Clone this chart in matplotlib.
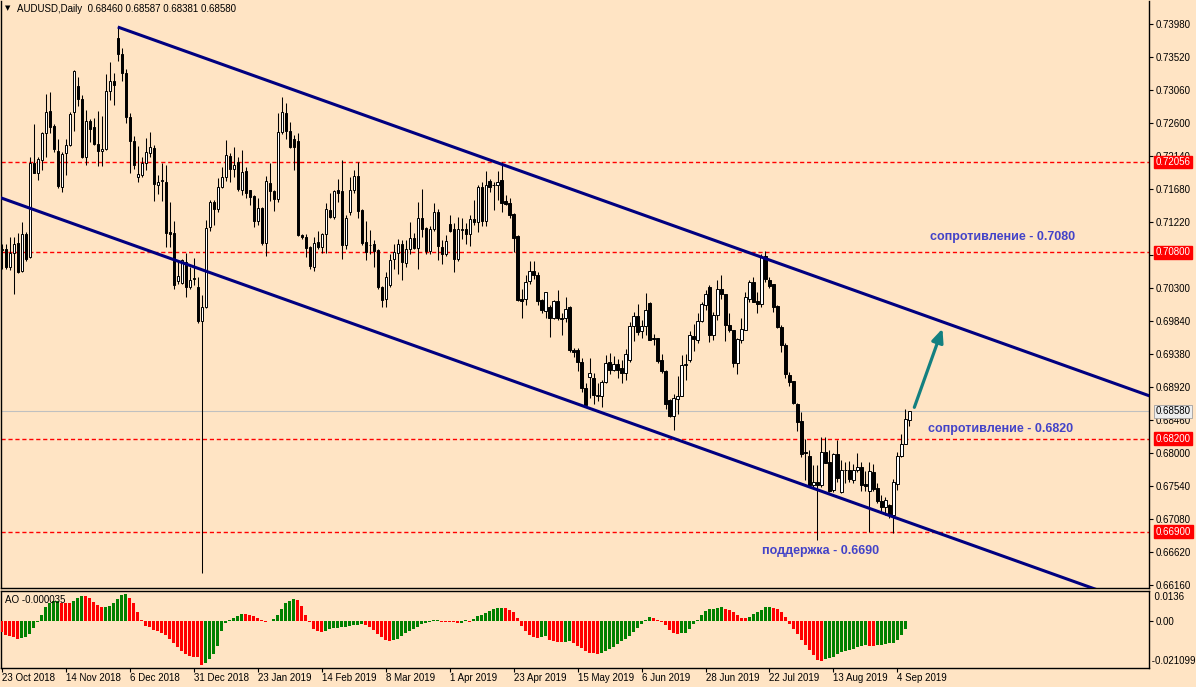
import numpy as np
import matplotlib
matplotlib.use("Agg")
import matplotlib.pyplot as plt
from matplotlib.transforms import blended_transform_factory

plt.rcParams['font.family'] = ['Liberation Sans', 'DejaVu Sans']

# === chart data ===
symbol = "AUDUSD,Daily"

open_ = [
    .7083, .7084, .7059, .7079, .7093, .7054, .7105, .7073, .7204, .7190,   # 0
    .7208, .7246, .7277, .7256, .7221, .7171, .7218, .7230, .7276, .7312,   # 10
    .7293, .7213, .7263, .7254, .7231, .7221, .7224, .7305, .7319, .7378,   # 20
    .7356, .7330, .7268, .7235, .7185, .7187, .7204, .7218, .7225, .7174,   # 30
    .7179, .7178, .7108, .7107, .7040, .7037, .7066, .7031, .7044, .7031,   # 40
    .6984, .7004, .7115, .7150, .7140, .7171, .7185, .7214, .7196, .7206,   # 50
    .7167, .7193, .7166, .7158, .7123, .7141, .7093, .7176, .7165, .7154,   # 60
    .7247, .7274, .7249, .7238, .7235, .7104, .7101, .7087, .7059, .7094,   # 70
    .7087, .7105, .7139, .7129, .7166, .7165, .7090, .7136, .7166, .7186,   # 80
    .7139, .7094, .7090, .7091, .7083, .7032, .7014, .7034, .7070, .7079,   # 90
    .7092, .7065, .7085, .7100, .7086, .7128, .7114, .7081, .7112, .7136,   # 100
    .7087, .7077, .7119, .7112, .7071, .7111, .7112, .7105, .7126, .7122,   # 110
    .7171, .7124, .7179, .7173, .7173, .7181, .7151, .7148, .7133, .7102,   # 120
    .7014, .7014, .7040, .7054, .7048, .7013, .6998, .7004, .6988, .7012,   # 130
    .6988, .6988, .7004, .6943, .6943, .6927, .6891, .6906, .6905, .6879,   # 140
    .6880, .6899, .6927, .6916, .6924, .6918, .6911, .6929, .6977, .6991,   # 150
    .6970, .6977, .7009, .6960, .6960, .6929, .6914, .6874, .6851, .6875,   # 160
    .6880, .6922, .6930, .6963, .6958, .6984, .7007, .7031, .6964, .6993,   # 170
    .7028, .7021, .6978, .6971, .6925, .6957, .6972, .7015, .7038, .7012,   # 180
    .7008, .7074, .7041, .7035, .7005, .6976, .6950, .6909, .6900, .6868,   # 190
    .6844, .6801, .6796, .6755, .6759, .6756, .6801, .6787, .6748, .6798,   # 200
    .6745, .6776, .6777, .6763, .6776, .6780, .6757, .6747, .6774, .6751,   # 210
    .6733, .6725, .6727, .6713, .6757, .6796, .6813, .68460,                # 220
]
high = [
    .7091, .7091, .7101, .7101, .7107, .7122, .7108, .7213, .7259, .7212,
    .7248, .7300, .7303, .7258, .7238, .7219, .7238, .7276, .7334, .7324,
    .7299, .7278, .7265, .7267, .7277, .7270, .7328, .7345, .7330, .7394,
    .7365, .7335, .7274, .7242, .7228, .7213, .7239, .7247, .7229, .7188,
    .7204, .7201, .7150, .7123, .7069, .7071, .7079, .7059, .7072, .7045,
    .7020, .7125, .7153, .7153, .7183, .7199, .7236, .7218, .7227, .7213,
    .7222, .7199, .7167, .7159, .7155, .7143, .7186, .7204, .7166, .7274,
    .7296, .7288, .7261, .7243, .7246, .7105, .7105, .7088, .7101, .7109,
    .7106, .7149, .7162, .7166, .7182, .7208, .7132, .7185, .7195, .7205,
    .7140, .7123, .7111, .7097, .7084, .7033, .7052, .7077, .7092, .7099,
    .7097, .7097, .7122, .7106, .7150, .7168, .7115, .7117, .7149, .7140,
    .7097, .7104, .7132, .7120, .7129, .7128, .7120, .7132, .7153, .7173,
    .7178, .7193, .7182, .7178, .7193, .7206, .7160, .7155, .7134, .7104,
    .7029, .7048, .7068, .7068, .7052, .7014, .7025, .7006, .7013, .7027,
    .6995, .7017, .7005, .6947, .6946, .6932, .6897, .6933, .6911, .6898,
    .6902, .6936, .6939, .6935, .6931, .6930, .6945, .6983, .6997, .7008,
    .6985, .7023, .7010, .6966, .6961, .6938, .6916, .6875, .6882, .6908,
    .6936, .6938, .6970, .6980, .6995, .7010, .7027, .7034, .6997, .7041,
    .7048, .7022, .6995, .6972, .6961, .6988, .7024, .7041, .7045, .7025,
    .7077, .7082, .7045, .7036, .7006, .6978, .6954, .6913, .6901, .6870,
    .6857, .6819, .6804, .6783, .6783, .6822, .6822, .6804, .6800, .6818,
    .6790, .6788, .6789, .6785, .6800, .6788, .6775, .6788, .6785, .6758,
    .6741, .6739, .6729, .6764, .6802, .6826, .6861, .68587,
]
low = [
    .7056, .7056, .7055, .7022, .7051, .7052, .7068, .7072, .7190, .7180,
    .7194, .7213, .7246, .7220, .7170, .7164, .7188, .7228, .7249, .7284,
    .7211, .7201, .7234, .7229, .7200, .7200, .7223, .7292, .7285, .7346,
    .7318, .7260, .7190, .7196, .7178, .7185, .7195, .7213, .7151, .7161,
    .7151, .7087, .7087, .7029, .7036, .7035, .7017, .7029, .7034, .6981,
    .6633, .7002, .7109, .7118, .7136, .7170, .7179, .7178, .7185, .7165,
    .7160, .7155, .7146, .7115, .7118, .7090, .7075, .7151, .7137, .7150,
    .7245, .7238, .7225, .7195, .7102, .7098, .7073, .7056, .7054, .7085,
    .7079, .7079, .7128, .7126, .7150, .7070, .7085, .7132, .7163, .7127,
    .7090, .7069, .7077, .7059, .7029, .7004, .7003, .7032, .7057, .7050,
    .7041, .7059, .7077, .7084, .7057, .7101, .7078, .7078, .7109, .7069,
    .7064, .7074, .7108, .7053, .7067, .7098, .7092, .7088, .7118, .7108,
    .7117, .7116, .7164, .7139, .7153, .7136, .7146, .7128, .7080, .7012,
    .6988, .7006, .7036, .7043, .7006, .6995, .6988, .6962, .6987, .6986,
    .6965, .6983, .6941, .6934, .6915, .6885, .6864, .6876, .6869, .6873,
    .6864, .6898, .6910, .6915, .6904, .6898, .6902, .6927, .6956, .6964,
    .6961, .6964, .6957, .6950, .6926, .6911, .6861, .6850, .6832, .6855,
    .6879, .6902, .6927, .6942, .6954, .6982, .7000, .6955, .6957, .6985,
    .7015, .6956, .6968, .6920, .6910, .6954, .6971, .7011, .7010, .6995,
    .7003, .7038, .7030, .6997, .6974, .6941, .6904, .6894, .6868, .6831,
    .6794, .6762, .6753, .6753, .6679, .6752, .6786, .6745, .6746, .6760,
    .6744, .6758, .6760, .6758, .6774, .6747, .6747, .6690, .6747, .6730,
    .6716, .6714, .6710, .6689, .6749, .6794, .6812, .68381,
]
close = [
    .7085, .7059, .7079, .7091, .7052, .7105, .7070, .7204, .7191, .7210,
    .7246, .7275, .7254, .7224, .7172, .7217, .7229, .7273, .7332, .7293,
    .7213, .7263, .7252, .7231, .7221, .7224, .7305, .7319, .7313, .7356,
    .7330, .7268, .7235, .7201, .7189, .7204, .7220, .7226, .7175, .7178,
    .7180, .7107, .7105, .7034, .7047, .7069, .7031, .7041, .7043, .6984,
    .7004, .7114, .7150, .7140, .7171, .7185, .7216, .7196, .7201, .7168,
    .7192, .7162, .7157, .7123, .7141, .7093, .7179, .7165, .7154, .7247,
    .7275, .7249, .7227, .7227, .7104, .7101, .7086, .7061, .7093, .7087,
    .7105, .7140, .7129, .7165, .7163, .7090, .7128, .7166, .7186, .7138,
    .7093, .7080, .7090, .7082, .7031, .7013, .7045, .7069, .7080, .7092,
    .7066, .7084, .7100, .7086, .7127, .7112, .7081, .7112, .7136, .7088,
    .7077, .7096, .7110, .7071, .7112, .7112, .7105, .7126, .7122, .7171,
    .7124, .7173, .7171, .7173, .7178, .7149, .7147, .7132, .7100, .7013,
    .7012, .7039, .7054, .7048, .7012, .6999, .7024, .6988, .7012, .6988,
    .6987, .7001, .6943, .6941, .6927, .6890, .6867, .6911, .6881, .6881,
    .6899, .6925, .6916, .6924, .6916, .6911, .6938, .6977, .6991, .6969,
    .6977, .7000, .6957, .6959, .6928, .6914, .6868, .6851, .6876, .6880,
    .6922, .6924, .6964, .6959, .6984, .7008, .7021, .6964, .6993, .7028,
    .7022, .6978, .6971, .6925, .6959, .6973, .7018, .7038, .7011, .7008,
    .7073, .7042, .7033, .7003, .6976, .6950, .6910, .6899, .6870, .6843,
    .6799, .6800, .6755, .6759, .6755, .6801, .6786, .6747, .6798, .6765,
    .6776, .6777, .6764, .6777, .6781, .6756, .6754, .6775, .6750, .6733,
    .6725, .6734, .6713, .6759, .6796, .6813, .6847, .68580,
]

# Awesome Oscillator, one value per bar
ao = [
    -0.00516, -0.00625, -0.00672, -0.00750, -0.00813, -0.00782, -0.00719, -0.00594, -0.00313, -0.00031,
    0.00313, 0.00656, 0.00860, 0.00938, 0.00969, 0.00860, 0.00855, 0.00850, 0.00938, 0.01094,
    0.01172, 0.01165, 0.01094, 0.00907, 0.00782, 0.00672, 0.00680, 0.00703, 0.00860, 0.01047,
    0.01250, 0.01260, 0.01094, 0.00844, 0.00438, 0.00047, -0.00203, -0.00281, -0.00391, -0.00469,
    -0.00563, -0.00656, -0.00813, -0.01032, -0.01219, -0.01407, -0.01532, -0.01641, -0.01657, -0.01688,
    -0.02032, -0.01954, -0.01751, -0.01532, -0.01172, -0.00438, -0.00094, 0.00047, 0.00156, 0.00234,
    0.00360, 0.00350, 0.00313, 0.00250, 0.00156, 0.00063, -0.00031, 0.00031, 0.00125, 0.00281,
    0.00594, 0.00860, 0.00938, 0.01047, 0.01000, 0.00703, 0.00313, -0.00010, -0.00344, -0.00469,
    -0.00516, -0.00438, -0.00375, -0.00313, -0.00297, -0.00281, -0.00250, -0.00219, -0.00188, -0.00156,
    -0.00150, -0.00160, -0.00281, -0.00422, -0.00594, -0.00750, -0.00875, -0.00907, -0.00900, -0.00844,
    -0.00703, -0.00563, -0.00469, -0.00375, -0.00250, -0.00125, -0.00063, -0.00010, 0.00047, 0.00050,
    -0.00016, -0.00047, -0.00050, -0.00055, -0.00094, -0.00063, 0.00047, -0.00016, 0.00109, 0.00250,
    0.00297, 0.00391, 0.00485, 0.00578, 0.00625, 0.00630, 0.00620, 0.00531, 0.00438, 0.00156,
    -0.00203, -0.00438, -0.00625, -0.00719, -0.00766, -0.00719, -0.00703, -0.00875, -0.00907, -0.00950,
    -0.00955, -0.00950, -0.00907, -0.01016, -0.01157, -0.01250, -0.01375, -0.01469, -0.01500, -0.01516,
    -0.01510, -0.01376, -0.01313, -0.01203, -0.01047, -0.00938, -0.00813, -0.00672, -0.00485, -0.00297,
    -0.00109, 0.00047, 0.00188, 0.00141, 0.00078, -0.00016, -0.00172, -0.00406, -0.00531, -0.00578,
    -0.00570, -0.00531, -0.00344, -0.00109, 0.00047, 0.00297, 0.00485, 0.00578, 0.00585, 0.00625,
    0.00672, 0.00578, 0.00531, 0.00438, 0.00297, 0.00156, 0.00150, 0.00203, 0.00344, 0.00438,
    0.00531, 0.00672, 0.00680, 0.00625, 0.00578, 0.00438, 0.00203, -0.00125, -0.00344, -0.00578,
    -0.00860, -0.01094, -0.01329, -0.01563, -0.01798, -0.01844, -0.01751, -0.01704, -0.01657, -0.01516,
    -0.01454, -0.01407, -0.01360, -0.01282, -0.01188, -0.01172, -0.01125, -0.01141, -0.01150, -0.01094,
    -0.01090, -0.01085, -0.01000, -0.00995, -0.00860, -0.00625, -0.00344, -0.000035,
]

date_labels = ["23 Oct 2018", "14 Nov 2018", "6 Dec 2018", "31 Dec 2018", "23 Jan 2019",
               "14 Feb 2019", "8 Mar 2019", "1 Apr 2019", "23 Apr 2019", "15 May 2019",
               "6 Jun 2019", "28 Jun 2019", "22 Jul 2019", "13 Aug 2019", "4 Sep 2019"]
DATE_STEP = 16   # bars between date labels

price_ticks = [0.73980, 0.73520, 0.73060, 0.72600, 0.72140, 0.71680, 0.71220, 0.70760, 0.70300,
               0.69840, 0.69380, 0.68920, 0.68460, 0.68000, 0.67540, 0.67080, 0.66620, 0.66160]

levels = [0.72056, 0.70800, 0.68200, 0.66900]     # red dashed S/R lines

# channel trend lines: (bar, price) anchors
channel_up = [(29, 0.73938), (229, 0.69953)]
channel_dn = [(0, 0.71552), (229, 0.66989)]

notes = [("сопротивление - 0.7080", 232.2, 0.71011),
         ("сопротивление - 0.6820", 231.7, 0.68335),
         ("поддержка - 0.6690", 190.2, 0.66634)]
arrow_from = (228.0, 0.68600)
arrow_to = (235.5, 0.69770)

# === layout (MT4 look) ===
W, H = 1196, 687
BG = "#FFE4C4"
NOTE_C = "#4343C8"

n = len(close)
x = np.arange(n)
o = np.array(open_); c = np.array(close); hi = np.array(high); lo = np.array(low)

fig = plt.figure(figsize=(W / 100, H / 100), dpi=100, facecolor=BG)
right = 1149 / W
ax = fig.add_axes([0.5 / W, (H - 588) / H, right - 0.5 / W, 587 / H], facecolor=BG)
ax2 = fig.add_axes([0.5 / W, (H - 667.7) / H, right - 0.5 / W, 77 / H], facecolor=BG)

xlim = (-0.33, (1149 - 1.3) / 4)
ax.set_xlim(*xlim)
ax.set_ylim(0.661182, 0.743006)
ax2.set_xlim(*xlim)
ax2.set_ylim(-0.02176, 0.01435)

# candles
ax.vlines(x, lo, hi, color="black", lw=0.75, zorder=3)
up = c >= o
body = np.maximum(np.abs(c - o), 0.00005)
ax.bar(x, body, bottom=np.minimum(o, c), width=0.55,
       color=np.where(up, "white", "black"), edgecolor="black", lw=0.7, zorder=4)

# horizontal levels
for lv in levels:
    ax.axhline(lv, color="red", lw=1.0, dashes=(3, 2), zorder=2)
ax.axhline(close[-1], color="#C0C0C0", lw=0.8, zorder=2)

# channel
for (x0, y0), (x1, y1) in (channel_up, channel_dn):
    k = (y1 - y0) / (x1 - x0)
    xs = np.array([x0 if x0 > 0 else -5, 300])
    ax.plot(xs, y0 + k * (xs - x0), color="#000080", lw=2.2, zorder=5, solid_capstyle="butt")

# notes and arrow
for txt, bx, py in notes:
    ax.text(bx, py, txt, color=NOTE_C, fontsize=9, fontweight="bold", va="center", ha="left", zorder=6)
ax.annotate("", xy=arrow_to, xytext=arrow_from,
            arrowprops=dict(arrowstyle="-|>,head_length=0.8,head_width=0.35", color="#138080", lw=2.3),
            zorder=6)

# right price scale
ax.yaxis.tick_right()
ax.set_yticks(price_ticks)
ax.set_yticklabels([f"{p:.5f}" for p in price_ticks])
ax.tick_params(axis="y", direction="out", length=3, width=0.8, labelsize=7, pad=2, colors="black")
ax.set_xticks([])
for s in ("top",):
    ax.spines[s].set_visible(False)
for s in ("left", "right", "bottom"):
    ax.spines[s].set_linewidth(1.0)

tr = blended_transform_factory(ax.transAxes, ax.transData)
for lv in levels:
    ax.annotate(f"{lv:.5f}", xy=(1.0, lv), xycoords=tr, xytext=(5, 0), textcoords="offset points",
                ha="left", va="center", fontsize=7, color="white", annotation_clip=False,
                bbox=dict(boxstyle="square,pad=0.15", fc="red", ec="red"))
ax.annotate(f"{close[-1]:.5f}", xy=(1.0, close[-1]), xycoords=tr, xytext=(5, 0), textcoords="offset points",
            ha="left", va="center", fontsize=7, color="black", annotation_clip=False,
            bbox=dict(boxstyle="square,pad=0.15", fc="#EEEEEE", ec="#A0A0A0", lw=0.6))

# header
fig.text(5 / W, 1 - 8.5 / H, "▼", fontsize=5, family="DejaVu Sans", va="center", ha="left")
fig.text(17 / W, 1 - 8.5 / H,
         f"{symbol}  {open_[-1]:.5f} {high[-1]:.5f} {low[-1]:.5f} {close[-1]:.5f}",
         fontsize=7, va="center", ha="left")

# AO panel
ao = np.array(ao)
rising = np.concatenate([[False], np.diff(ao) > 0])
ax2.bar(x, ao, width=0.7, color=np.where(rising, "#008000", "#FF0000"), lw=0, zorder=3)
ax2.yaxis.tick_right()
ax2.set_yticks([0.0])
ax2.set_yticklabels(["0.00"])
ax2.tick_params(axis="y", direction="out", length=3, width=0.8, labelsize=7, pad=2)
ax2.text(1.0, (667.7 - 597) / 77, "  0.0136", transform=ax2.transAxes, fontsize=7, va="center", ha="left")
ax2.text(1.0, (667.7 - 661) / 77, " -0.021099", transform=ax2.transAxes, fontsize=7, va="center", ha="left")
ax2.text(5 / 1149, (667.7 - 600) / 77, f"AO {ao[-1]:.6f}", transform=ax2.transAxes,
         fontsize=7, va="center", ha="left", zorder=5)
for s in ax2.spines.values():
    s.set_linewidth(1.0)

ticks = np.arange(len(date_labels)) * DATE_STEP
ax2.set_xticks(ticks)
ax2.set_xticklabels(date_labels, ha="left")
ax2.tick_params(axis="x", direction="out", length=3, width=0.8, labelsize=7, pad=1)

fig.savefig("out.png", dpi=100, facecolor=BG)
